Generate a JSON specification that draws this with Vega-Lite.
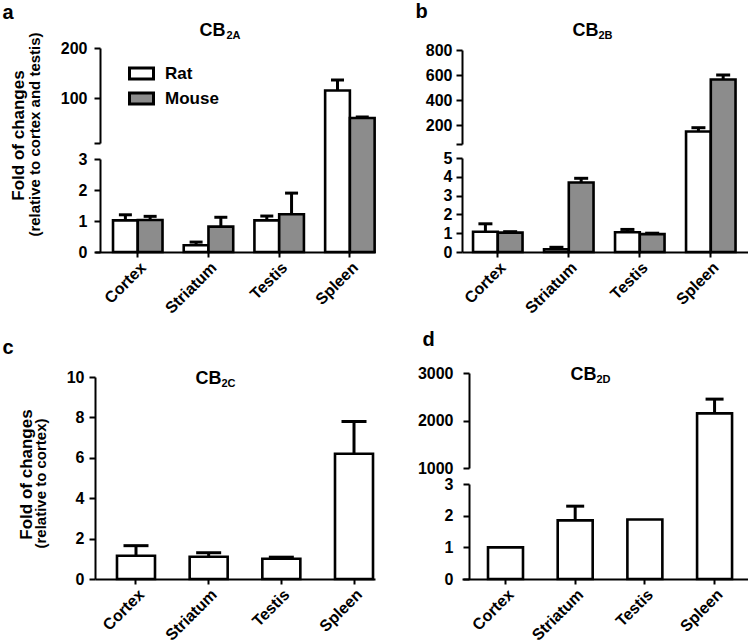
{
  "$schema": "https://vega.github.io/schema/vega-lite/v6.json",
  "padding": {"left": 2, "top": 1, "right": 0, "bottom": 0},
  "config": {
    "font": "Liberation Sans",
    "view": {"stroke": null},
    "axis": {"grid": false, "domainColor": "black", "domainWidth": 2, "tickColor": "black", "tickWidth": 2, "tickSize": 6, "labelColor": "black", "labelFont": "Liberation Sans", "labelFontWeight": "bold", "labelFontSize": 16, "titleColor": "black", "titleFont": "Liberation Sans", "titleFontWeight": "bold", "titleFontSize": 16, "titleLineHeight": 16},
    "axisX": {"labelAngle": -45, "labelFontSize": 16, "tickSize": 5, "title": null},
    "legend": {"labelFont": "Liberation Sans"}
  },
  "datasets": {
    "a": [
      {"tissue": "Cortex", "species": "Rat", "value": 1.02, "err": 1.2},
      {"tissue": "Cortex", "species": "Mouse", "value": 1.03, "err": 1.15},
      {"tissue": "Striatum", "species": "Rat", "value": 0.22, "err": 0.32},
      {"tissue": "Striatum", "species": "Mouse", "value": 0.82, "err": 1.12},
      {"tissue": "Testis", "species": "Rat", "value": 1.02, "err": 1.16},
      {"tissue": "Testis", "species": "Mouse", "value": 1.22, "err": 1.9},
      {"tissue": "Spleen", "species": "Rat", "value": 115, "err": 136},
      {"tissue": "Spleen", "species": "Mouse", "value": 60, "err": 62}
    ],
    "b": [
      {"tissue": "Cortex", "species": "Rat", "value": 1.08, "err": 1.5},
      {"tissue": "Cortex", "species": "Mouse", "value": 1.03, "err": 1.08},
      {"tissue": "Striatum", "species": "Rat", "value": 0.15, "err": 0.25},
      {"tissue": "Striatum", "species": "Mouse", "value": 3.7, "err": 3.92},
      {"tissue": "Testis", "species": "Rat", "value": 1.05, "err": 1.2},
      {"tissue": "Testis", "species": "Mouse", "value": 0.95, "err": 1.0},
      {"tissue": "Spleen", "species": "Rat", "value": 150, "err": 180},
      {"tissue": "Spleen", "species": "Mouse", "value": 565, "err": 600}
    ],
    "c": [
      {"tissue": "Cortex", "value": 1.15, "err": 1.65},
      {"tissue": "Striatum", "value": 1.1, "err": 1.3},
      {"tissue": "Testis", "value": 1.0, "err": 1.08},
      {"tissue": "Spleen", "value": 6.2, "err": 7.8}
    ],
    "d": [
      {"tissue": "Cortex", "value": 1.0, "err": null},
      {"tissue": "Striatum", "value": 1.85, "err": 2.3},
      {"tissue": "Testis", "value": 1.88, "err": null},
      {"tissue": "Spleen", "value": 2150, "err": 2450}
    ]
  },
  "columns": 2,
  "bounds": "flush",
  "align": "each",
  "spacing": {"row": 121, "column": 87},
  "concat": [
    {
      "width": 280, "height": 204,
      "data": {"name": "a"},
      "layer": [
        {
          "mark": {"type": "bar", "stroke": "black", "strokeWidth": 2.6},
          "encoding": {
            "x": {"field": "tissue", "type": "nominal", "sort": ["Cortex", "Striatum", "Testis", "Spleen"], "scale": {"paddingInner": 0.3, "paddingOuter": 0.13, "align": 0.98}},
            "xOffset": {"field": "species", "type": "nominal", "sort": ["Rat", "Mouse"]},
            "y": {"field": "value", "type": "quantitative", "scale": {"domain": [0, 3, 10, 200], "range": [204, 111, 95, 0], "nice": false, "zero": false},
              "axis": {"orient": "left", "offset": -5, "values": [0, 1, 2, 3, 100, 200], "domain": false, "format": "d", "labelPadding": 7, "title": "(relative to cortex and testis)", "titleX": -65.5, "titleY": 86, "titleAlign": "center", "titleBaseline": "middle", "titleAngle": -90, "titleFontSize": 15}},
            "fill": {"field": "species", "type": "nominal", "sort": ["Rat", "Mouse"], "scale": {"domain": ["Rat", "Mouse"], "range": ["white", "#8c8c8c"]},
              "legend": {"orient": "none", "legendX": 33, "legendY": 12, "title": null, "symbolType": "M-1,-0.45H1V0.45H-1Z", "symbolSize": 576, "symbolStrokeWidth": 3, "symbolStrokeColor": "black", "symbolOpacity": 1, "labelFontSize": 17, "labelFontWeight": "bold", "labelColor": "black", "rowPadding": 0, "labelOffset": 10, "padding": 0}}
          }
        },
        {
          "transform": [{"filter": "datum.err != null"}],
          "mark": {"type": "rule", "strokeWidth": 3, "color": "black"},
          "encoding": {
            "x": {"field": "tissue", "type": "nominal", "sort": ["Cortex", "Striatum", "Testis", "Spleen"]},
            "xOffset": {"field": "species", "type": "nominal", "sort": ["Rat", "Mouse"]},
            "y": {"field": "value", "type": "quantitative", "scale": {"domain": [0, 3, 10, 200], "range": [204, 111, 95, 0], "nice": false, "zero": false}, "axis": null},
            "y2": {"field": "err"}
          }
        },
        {
          "transform": [{"filter": "datum.err != null"}],
          "mark": {"type": "tick", "thickness": 3, "size": 13, "color": "black", "opacity": 1},
          "encoding": {
            "x": {"field": "tissue", "type": "nominal", "sort": ["Cortex", "Striatum", "Testis", "Spleen"]},
            "xOffset": {"field": "species", "type": "nominal", "sort": ["Rat", "Mouse"]},
            "y": {"field": "err", "type": "quantitative", "scale": {"domain": [0, 3, 10, 200], "range": [204, 111, 95, 0], "nice": false, "zero": false}, "axis": null}
          }
        },
        {
          "mark": {"type": "point", "opacity": 0},
          "encoding": {
            "x": {"field": "tissue", "type": "nominal", "sort": ["Cortex", "Striatum", "Testis", "Spleen"]},
            "y": {"datum": 1, "type": "quantitative", "scale": {"domain": [0, 3], "range": [204, 111], "nice": false, "zero": false}, "axis": {"orient": "left", "offset": -5, "labels": false, "ticks": false, "domain": true, "title": "2A", "titleAngle": 0, "titleX": 126, "titleY": -10, "titleAlign": "left", "titleBaseline": "alphabetic", "titleFontSize": 11}}}
        },
        {
          "mark": {"type": "point", "opacity": 0},
          "encoding": {
            "x": {"field": "tissue", "type": "nominal", "sort": ["Cortex", "Striatum", "Testis", "Spleen"]},
            "y": {"datum": 100, "type": "quantitative", "scale": {"domain": [10, 200], "range": [95, 0], "nice": false, "zero": false}, "axis": {"orient": "left", "offset": -5, "labels": false, "values": [10], "ticks": true, "domain": true, "title": "a", "titleAngle": 0, "titleX": -98, "titleY": -30, "titleAlign": "left", "titleBaseline": "alphabetic", "titleFontSize": 20}}}
        },
        {
          "mark": {"type": "point", "opacity": 0},
          "encoding": {
            "x": {"field": "tissue", "type": "nominal", "sort": ["Cortex", "Striatum", "Testis", "Spleen"]},
            "y": {"datum": 100, "type": "quantitative", "scale": {"domain": [10, 200], "range": [95, 0], "nice": false, "zero": false}, "axis": {"orient": "left", "offset": -5, "labels": false, "ticks": false, "domain": false, "title": "CB", "titleAngle": 0, "titleX": 99, "titleY": -13, "titleAlign": "left", "titleBaseline": "alphabetic", "titleFontSize": 18}}}
        },
        {
          "mark": {"type": "point", "opacity": 0},
          "encoding": {
            "x": {"field": "tissue", "type": "nominal", "sort": ["Cortex", "Striatum", "Testis", "Spleen"]},
            "y": {"datum": 100, "type": "quantitative", "scale": {"domain": [10, 200], "range": [95, 0], "nice": false, "zero": false}, "axis": {"orient": "left", "offset": -5, "labels": false, "ticks": false, "domain": false, "title": "Fold of changes", "titleAngle": -90, "titleX": -82, "titleY": 87, "titleAlign": "center", "titleBaseline": "middle", "titleFontSize": 17}}}
        }
      ],
      "resolve": {"scale": {"y": "independent"}, "axis": {"y": "independent"}}
    },
    {
      "width": 286, "height": 204,
      "data": {"name": "b"},
      "layer": [
        {
          "mark": {"type": "bar", "stroke": "black", "strokeWidth": 2.6},
          "encoding": {
            "x": {"field": "tissue", "type": "nominal", "sort": ["Cortex", "Striatum", "Testis", "Spleen"], "scale": {"paddingInner": 0.31, "paddingOuter": 0.169, "align": 0.46}},
            "xOffset": {"field": "species", "type": "nominal", "sort": ["Rat", "Mouse"]},
            "y": {"field": "value", "type": "quantitative", "scale": {"domain": [0, 5, 50, 800], "range": [204, 110, 96, 2], "nice": false, "zero": false},
              "axis": {"orient": "left", "values": [0, 1, 2, 3, 4, 5, 200, 400, 600, 800], "domain": false, "format": "d", "labelPadding": 4, "title": "CB", "titleAngle": 0, "titleX": 110, "titleY": -13, "titleAlign": "left", "titleBaseline": "alphabetic", "titleFontSize": 18}},
            "fill": {"field": "species", "type": "nominal", "sort": ["Rat", "Mouse"], "scale": {"domain": ["Rat", "Mouse"], "range": ["white", "#8c8c8c"]}, "legend": null}
          }
        },
        {
          "transform": [{"filter": "datum.err != null"}],
          "mark": {"type": "rule", "strokeWidth": 3, "color": "black"},
          "encoding": {
            "x": {"field": "tissue", "type": "nominal", "sort": ["Cortex", "Striatum", "Testis", "Spleen"]},
            "xOffset": {"field": "species", "type": "nominal", "sort": ["Rat", "Mouse"]},
            "y": {"field": "value", "type": "quantitative", "scale": {"domain": [0, 5, 50, 800], "range": [204, 110, 96, 2], "nice": false, "zero": false}, "axis": null},
            "y2": {"field": "err"}
          }
        },
        {
          "transform": [{"filter": "datum.err != null"}],
          "mark": {"type": "tick", "thickness": 3, "size": 14, "color": "black", "opacity": 1},
          "encoding": {
            "x": {"field": "tissue", "type": "nominal", "sort": ["Cortex", "Striatum", "Testis", "Spleen"]},
            "xOffset": {"field": "species", "type": "nominal", "sort": ["Rat", "Mouse"]},
            "y": {"field": "err", "type": "quantitative", "scale": {"domain": [0, 5, 50, 800], "range": [204, 110, 96, 2], "nice": false, "zero": false}, "axis": null}
          }
        },
        {
          "mark": {"type": "point", "opacity": 0},
          "encoding": {
            "x": {"field": "tissue", "type": "nominal", "sort": ["Cortex", "Striatum", "Testis", "Spleen"]},
            "y": {"datum": 1, "type": "quantitative", "scale": {"domain": [0, 5], "range": [204, 110], "nice": false, "zero": false}, "axis": {"orient": "left", "labels": false, "ticks": false, "domain": true, "title": "2B", "titleAngle": 0, "titleX": 136, "titleY": -10, "titleAlign": "left", "titleBaseline": "alphabetic", "titleFontSize": 11}}}
        },
        {
          "mark": {"type": "point", "opacity": 0},
          "encoding": {
            "x": {"field": "tissue", "type": "nominal", "sort": ["Cortex", "Striatum", "Testis", "Spleen"]},
            "y": {"datum": 400, "type": "quantitative", "scale": {"domain": [50, 800], "range": [96, 2], "nice": false, "zero": false}, "axis": {"orient": "left", "labels": false, "values": [50], "ticks": true, "domain": true, "title": "b", "titleAngle": 0, "titleX": -47, "titleY": -31, "titleAlign": "left", "titleBaseline": "alphabetic", "titleFontSize": 20}}}
        }
      ],
      "resolve": {"scale": {"y": "independent"}, "axis": {"y": "independent"}}
    },
    {
      "width": 280, "height": 206,
      "data": {"name": "c"},
      "layer": [
        {
          "mark": {"type": "bar", "fill": "white", "stroke": "black", "strokeWidth": 2.6},
          "encoding": {
            "x": {"field": "tissue", "type": "nominal", "sort": ["Cortex", "Striatum", "Testis", "Spleen"], "scale": {"paddingInner": 0.477, "paddingOuter": 0.165, "align": 0.917}},
            "y": {"field": "value", "type": "quantitative", "scale": {"domain": [0, 10], "range": [206, 4], "nice": false, "zero": false},
              "axis": {"orient": "left", "values": [0, 2, 4, 6, 8, 10], "domain": true, "labelPadding": 5, "title": "(relative to cortex)", "titleX": -55, "titleY": 110, "titleAlign": "center", "titleBaseline": "middle", "titleAngle": -90, "titleFontSize": 15}}
          }
        },
        {
          "transform": [{"filter": "datum.err != null"}],
          "mark": {"type": "rule", "strokeWidth": 3, "color": "black"},
          "encoding": {
            "x": {"field": "tissue", "type": "nominal", "sort": ["Cortex", "Striatum", "Testis", "Spleen"]},
            "y": {"field": "value", "type": "quantitative", "scale": {"domain": [0, 10], "range": [206, 4], "nice": false, "zero": false}, "axis": null},
            "y2": {"field": "err"}
          }
        },
        {
          "transform": [{"filter": "datum.err != null"}],
          "mark": {"type": "tick", "thickness": 3, "size": 25, "color": "black", "opacity": 1},
          "encoding": {
            "x": {"field": "tissue", "type": "nominal", "sort": ["Cortex", "Striatum", "Testis", "Spleen"]},
            "y": {"field": "err", "type": "quantitative", "scale": {"domain": [0, 10], "range": [206, 4], "nice": false, "zero": false}, "axis": null}
          }
        },
        {
          "mark": {"type": "point", "opacity": 0},
          "encoding": {
            "x": {"field": "tissue", "type": "nominal", "sort": ["Cortex", "Striatum", "Testis", "Spleen"]},
            "y": {"datum": 5, "type": "quantitative", "scale": {"domain": [0, 10], "range": [206, 4], "nice": false, "zero": false}, "axis": {"orient": "left", "labels": false, "ticks": false, "domain": false, "title": "c", "titleAngle": 0, "titleX": -93, "titleY": -20, "titleAlign": "left", "titleBaseline": "alphabetic", "titleFontSize": 20}}}
        },
        {
          "mark": {"type": "point", "opacity": 0},
          "encoding": {
            "x": {"field": "tissue", "type": "nominal", "sort": ["Cortex", "Striatum", "Testis", "Spleen"]},
            "y": {"datum": 5, "type": "quantitative", "scale": {"domain": [0, 10], "range": [206, 4], "nice": false, "zero": false}, "axis": {"orient": "left", "labels": false, "ticks": false, "domain": false, "title": "CB", "titleAngle": 0, "titleX": 100, "titleY": 10, "titleAlign": "left", "titleBaseline": "alphabetic", "titleFontSize": 18}}}
        },
        {
          "mark": {"type": "point", "opacity": 0},
          "encoding": {
            "x": {"field": "tissue", "type": "nominal", "sort": ["Cortex", "Striatum", "Testis", "Spleen"]},
            "y": {"datum": 5, "type": "quantitative", "scale": {"domain": [0, 10], "range": [206, 4], "nice": false, "zero": false}, "axis": {"orient": "left", "labels": false, "ticks": false, "domain": false, "title": "2C", "titleAngle": 0, "titleX": 126, "titleY": 13, "titleAlign": "left", "titleBaseline": "alphabetic", "titleFontSize": 11}}}
        },
        {
          "mark": {"type": "point", "opacity": 0},
          "encoding": {
            "x": {"field": "tissue", "type": "nominal", "sort": ["Cortex", "Striatum", "Testis", "Spleen"]},
            "y": {"datum": 5, "type": "quantitative", "scale": {"domain": [0, 10], "range": [206, 4], "nice": false, "zero": false}, "axis": {"orient": "left", "labels": false, "ticks": false, "domain": false, "title": "Fold of changes", "titleAngle": -90, "titleX": -69, "titleY": 101, "titleAlign": "center", "titleBaseline": "middle", "titleFontSize": 17}}}
        }
      ],
      "resolve": {"scale": {"y": "independent"}, "axis": {"y": "independent"}}
    },
    {
      "width": 286, "height": 206,
      "data": {"name": "d"},
      "layer": [
        {
          "mark": {"type": "bar", "fill": "white", "stroke": "black", "strokeWidth": 2.6},
          "encoding": {
            "x": {"field": "tissue", "type": "nominal", "sort": ["Cortex", "Striatum", "Testis", "Spleen"], "scale": {"paddingInner": 0.498, "paddingOuter": 0.301, "align": 0.62}},
            "y": {"field": "value", "type": "quantitative", "scale": {"domain": [0, 3, 1000, 3000], "range": [206, 111, 95, 0], "nice": false, "zero": false},
              "axis": {"orient": "left", "offset": -7, "values": [0, 1, 2, 3, 1000, 2000, 3000], "domain": false, "format": "d", "labelPadding": 10, "title": "CB", "titleAngle": 0, "titleX": 101, "titleY": 6, "titleAlign": "left", "titleBaseline": "alphabetic", "titleFontSize": 18}}
          }
        },
        {
          "transform": [{"filter": "datum.err != null"}],
          "mark": {"type": "rule", "strokeWidth": 3, "color": "black"},
          "encoding": {
            "x": {"field": "tissue", "type": "nominal", "sort": ["Cortex", "Striatum", "Testis", "Spleen"]},
            "y": {"field": "value", "type": "quantitative", "scale": {"domain": [0, 3, 1000, 3000], "range": [206, 111, 95, 0], "nice": false, "zero": false}, "axis": null},
            "y2": {"field": "err"}
          }
        },
        {
          "transform": [{"filter": "datum.err != null"}],
          "mark": {"type": "tick", "thickness": 3, "size": 18, "color": "black", "opacity": 1},
          "encoding": {
            "x": {"field": "tissue", "type": "nominal", "sort": ["Cortex", "Striatum", "Testis", "Spleen"]},
            "y": {"field": "err", "type": "quantitative", "scale": {"domain": [0, 3, 1000, 3000], "range": [206, 111, 95, 0], "nice": false, "zero": false}, "axis": null}
          }
        },
        {
          "mark": {"type": "point", "opacity": 0},
          "encoding": {
            "x": {"field": "tissue", "type": "nominal", "sort": ["Cortex", "Striatum", "Testis", "Spleen"]},
            "y": {"datum": 1, "type": "quantitative", "scale": {"domain": [0, 3], "range": [206, 111], "nice": false, "zero": false}, "axis": {"orient": "left", "offset": -7, "labels": false, "ticks": false, "domain": true, "title": "2D", "titleAngle": 0, "titleX": 127, "titleY": 9, "titleAlign": "left", "titleBaseline": "alphabetic", "titleFontSize": 11}}}
        },
        {
          "mark": {"type": "point", "opacity": 0},
          "encoding": {
            "x": {"field": "tissue", "type": "nominal", "sort": ["Cortex", "Striatum", "Testis", "Spleen"]},
            "y": {"datum": 2000, "type": "quantitative", "scale": {"domain": [1000, 3000], "range": [95, 0], "nice": false, "zero": false}, "axis": {"orient": "left", "offset": -7, "labels": false, "ticks": false, "domain": true, "title": "d", "titleAngle": 0, "titleX": -47, "titleY": -28, "titleAlign": "left", "titleBaseline": "alphabetic", "titleFontSize": 20}}}
        }
      ],
      "resolve": {"scale": {"y": "independent"}, "axis": {"y": "independent"}}
    }
  ]
}
